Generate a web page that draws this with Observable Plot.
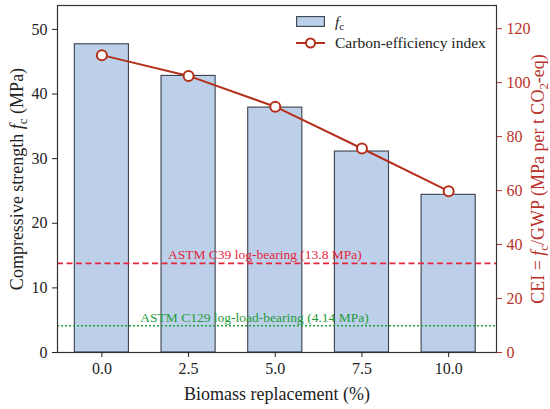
<!DOCTYPE html>
<html>
<head>
<meta charset="utf-8">
<script src="https://cdn.jsdelivr.net/npm/d3@7"></script>
<script src="https://cdn.jsdelivr.net/npm/@observablehq/plot@0.6"></script>
<style>
  html, body { margin: 0; padding: 0; background: #fff; }
  #wrap { position: relative; width: 550px; height: 409px; font-family: "Liberation Serif", serif; }
  #wrap svg.plot text { font-family: "Liberation Serif", serif; }
  g[aria-label="x-axis label"] text, g[aria-label="y-axis label"] text { font-size: 18px; }
  #legend { position: absolute; left: 296px; top: 11px; font-size: 15.5px; color: #222; line-height: 21px; }
  #legend .row { display: flex; align-items: center; height: 21px; }
  #legend svg { margin-right: 10px; }
  sub { font-size: 72%; vertical-align: -3px; line-height: 0; }
</style>
</head>
<body>
<div id="wrap"></div>
<script>
// ---- data ----
const replacement = [0, 2.5, 5, 7.5, 10];            // Biomass replacement (%)
const strength = [47.7, 42.8, 37.9, 31.1, 24.4];     // f_c (MPa)
const cei = [110.2, 102.5, 91.1, 75.6, 59.8];         // Carbon-efficiency index
const strengthTicks = [0, 10, 20, 30, 40, 50];
const ceiTicks = [0, 20, 40, 60, 80, 100, 120];
const refValues = [13.8, 4.14];
const refLabels = ["ASTM C39 log-bearing (13.8 MPa)", "ASTM C129 log-load-bearing (4.14 MPa)"];

const yMax = 53.7, ceiMax = 128.6;
const k = yMax / ceiMax;

const rows = replacement.map((x, i) => ({x, fc: strength[i], cei: cei[i]}));
const refs = refValues.map((v, i) => ({v, label: refLabels[i]}));

const lineColor = "#b5301b";
const axisRed = "#b8322a";

const chart = Plot.plot({
  width: 550, height: 409,
  marginLeft: 57, marginRight: 54, marginTop: 5, marginBottom: 57,
  style: {fontFamily: "Liberation Serif, serif", fontSize: "16px", color: "#222", background: "white"},
  x: {domain: [-1.28, 11.38]},
  y: {domain: [0, yMax]},
  marks: [
    Plot.rectY(rows, {x1: d => d.x - 0.78, x2: d => d.x + 0.78, y: "fc", fill: "#bdd0ea", stroke: "#3a414d", strokeWidth: 1.1}),
    Plot.ruleY([refs[0]], {y: "v", stroke: "#e3263b", strokeWidth: 1.6, strokeDasharray: "6,3.5"}),
    Plot.ruleY([refs[1]], {y: "v", stroke: "#22a03c", strokeWidth: 1.4, strokeDasharray: "2,2"}),
    Plot.text([refs[0]], {x: () => 4.7, y: "v", text: "label", dy: -9, fill: "#e3263b", fontSize: 13.5}),
    Plot.text([refs[1]], {x: () => 4.4, y: "v", text: "label", dy: -8, fill: "#1f9a3a", fontSize: 13.5}),
    Plot.line(rows, {x: "x", y: d => d.cei * k, stroke: lineColor, strokeWidth: 2}),
    Plot.dot(rows, {x: "x", y: d => d.cei * k, r: 5, fill: "white", stroke: lineColor, strokeWidth: 2}),
    Plot.frame({stroke: "#333", strokeWidth: 1.2}),
    Plot.axisY(strengthTicks, {anchor: "left", tickSize: 5, tickPadding: 5,
      label: "Compressive strength f_c (MPa)", labelAnchor: "center", labelArrow: "none", labelOffset: 47}),
    Plot.axisY(ceiTicks.map(t => t * k), {anchor: "right", tickSize: 5, tickPadding: 5, color: axisRed,
      tickFormat: d => String(Math.round(d / k)),
      label: "CEI = f_c/GWP (MPa per t CO_2-eq)", labelAnchor: "center", labelArrow: "none", labelOffset: 47}),
    Plot.axisX(replacement, {tickSize: 5, tickPadding: 5, tickFormat: d3.format(".1f"),
      label: "Biomass replacement (%)", labelAnchor: "center", labelArrow: "none", labelOffset: 47})
  ]
});

// rich text: italic f with subscript c, CO with subscript 2
function richify(el) {
  const s = el.textContent;
  if (!/f_c|CO_2/.test(s)) return;
  const parts = s.split(/(f_c|CO_2)/);
  while (el.firstChild) el.removeChild(el.firstChild);
  const NS = "http://www.w3.org/2000/svg";
  let pending = 0;
  for (const p of parts) {
    if (!p) continue;
    const add = (txt, attrs) => {
      const t = document.createElementNS(NS, "tspan");
      t.textContent = txt;
      for (const a in attrs) t.setAttribute(a, attrs[a]);
      if (pending && attrs.dy === undefined) { t.setAttribute("dy", -pending); pending = 0; }
      el.appendChild(t);
    };
    if (p === "f_c") {
      add("f", {"font-style": "italic"});
      add("c", {"font-size": "72%", dy: 4}); pending = 4;
    } else if (p === "CO_2") {
      add("CO", {});
      add("2", {"font-size": "72%", dy: 4}); pending = 4;
    } else {
      add(p, {});
    }
  }
}
chart.querySelectorAll("text").forEach(richify);

const wrap = document.getElementById("wrap");
wrap.appendChild(chart);

// legend
const legend = document.createElement("div");
legend.id = "legend";
legend.innerHTML = `
  <div class="row"><svg width="29" height="11"><rect x="0.6" y="0.6" width="27.8" height="9.8" fill="#bdd0ea" stroke="#3a414d" stroke-width="1.1"/></svg><span><i>f</i><sub>c</sub></span></div>
  <div class="row"><svg width="29" height="12"><line x1="0" y1="6" x2="29" y2="6" stroke="${lineColor}" stroke-width="2"/><circle cx="14.5" cy="6" r="4.5" fill="white" stroke="${lineColor}" stroke-width="2"/></svg><span>Carbon-efficiency index</span></div>`;
wrap.appendChild(legend);
</script>
</body>
</html>
